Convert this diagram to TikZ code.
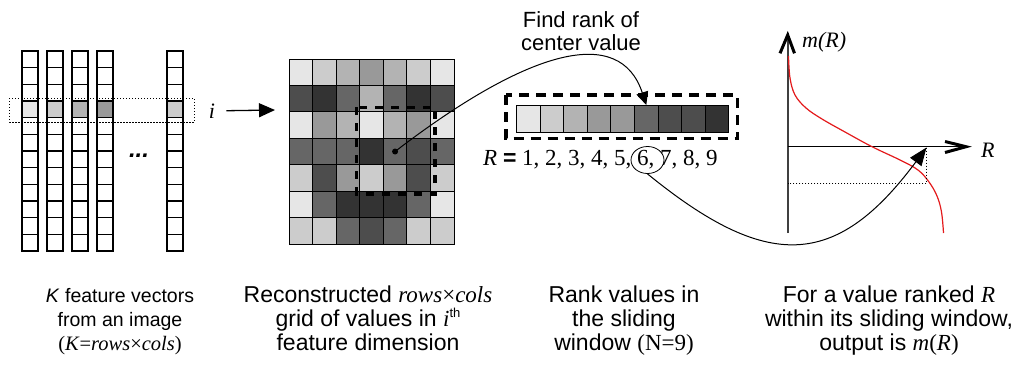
\documentclass[tikz,border=0pt]{standalone}
\usepackage{fontspec}
\setmainfont{Liberation Sans}
\newfontfamily\tms{Liberation Serif}
\usetikzlibrary{arrows.meta,shapes.geometric}

% grey levels used for the feature values
\definecolor{tone1}{HTML}{E6E6E6}
\definecolor{tone2}{HTML}{CCCCCC}
\definecolor{tone3}{HTML}{B3B3B3}
\definecolor{tone4}{HTML}{999999}
\definecolor{tone5}{HTML}{666666}
\definecolor{tone6}{HTML}{4D4D4D}
\definecolor{tone7}{HTML}{333333}
\definecolor{curvered}{HTML}{E41A1C}

\newcommand\ser[1]{{\tms #1}}

\begin{document}
\begin{tikzpicture}[x=1pt,y=-1pt,
  vecbox/.style={draw=black, line width=1.1pt, inner sep=0pt, outer sep=0pt,
    minimum width=16pt, minimum height=16.67pt},
  cellbox/.style={draw=black, line width=0.9pt, inner sep=0pt, outer sep=0pt,
    minimum width=23.57pt, minimum height=26.43pt},
  winframe/.style={line width=3.5pt, dash pattern=on 8pt off 8pt},
  guide/.style={line width=0.9pt, dash pattern=on 1.2pt off 1.8pt},
  caption/.style={align=center, anchor=base, inner sep=0pt,
    font=\fontsize{23}{24}\selectfont},
  link/.style={line width=1pt},
]
\fill[white] (0,0) rectangle (1019,376);
\useasboundingbox (0,0) rectangle (1019,376);

% ---- K feature vectors ----
\foreach \x/\t [count=\k] in {22/1,47/2,72/3,97/4,167/2} {
  \foreach \j in {1,...,12} {
    \ifnum\j=4 \def\fc{tone\t}\else\def\fc{white}\fi
    \node[vecbox, fill=\fc] (v-\k-\j) at ({\x+8},{51+(\j-0.5)*16.667}) {};
  }
}
\draw[guide] (9.3,98) rectangle (194,122);
\node[anchor=base, inner sep=0pt, font=\bfseries\itshape\fontsize{24}{24}\selectfont]
  (more) at (139,157) {...};
\node[anchor=base, inner sep=0pt, font=\fontsize{22}{22}\selectfont\tms\itshape]
  (ilab) at (212,118) {i};
\coordinate (gin) at (275,110);
\draw[line width=1.3pt, -{Triangle[length=16pt,width=14pt]}]
  ([xshift=11pt]ilab.east) -- (gin);

% ---- reconstructed rows x cols grid ----
\foreach \line [count=\r] in {{1,2,3,4,3,2,1},{6,7,5,3,5,7,6},{1,4,3,1,3,4,1},
    {5,5,5,7,5,6,5},{2,6,4,2,4,6,2},{1,5,7,7,7,5,1},{2,2,5,6,5,2,2}} {
  \foreach \t [count=\c] in \line {
    \node[cellbox, fill=tone\t] (g-\r-\c) at ({289+(\c-0.5)*23.571},{59+(\r-0.5)*26.429}) {};
  }
}
\draw[winframe] (356.7,107.3) rectangle (435,194);
\fill (g-4-5.center) circle (3pt);

% ---- sorted values of the window ----
\foreach \t [count=\c] in {1,2,3,4,4,5,6,6,7}
  \node[cellbox, fill=tone\t, minimum width=23.6pt, minimum height=27pt]
    (s-\c) at ({516.5+(\c-0.5)*23.6},118.5) {};
\draw[winframe, dash pattern=on 10pt off 7pt] (506,95) rectangle (737.5,138.5);

% the base anchor of a multi-line node sits on its last line
\node[caption, font=\fontsize{22}{23}\selectfont] (findrank) at (581,50)
  {Find rank of\\center value};
\draw[link, -{Triangle[length=13pt,width=12pt]}]
  (g-4-5.center) .. controls (530,48) and (620,25) .. (s-6.north);

\node[anchor=base west, inner sep=0pt, font=\fontsize{23}{23}\selectfont\tms]
  (ranks) at (483,165) {\textit{R} {\rmfamily\bfseries =} 1, 2, 3, 4, 5, 6, 7, 8, 9};
\node[draw, ellipse, line width=0.8pt, minimum width=33pt, minimum height=27pt,
  inner sep=0pt] (ring) at (647.5,160) {};

% ---- mapping m(R) ----
\coordinate (O) at (787.7,146.7);
\draw[line width=2pt, black!75] (787.7,233) -- (787.7,33);
\draw[line width=3pt] (780,53.3) -- (787.7,35) -- (794.5,53.3);
\draw[line width=1.3pt] (O) -- (968,146.7);
\draw[line width=3pt] (945,141.5) -- (966,146.7) -- (945,152.5);
\node[anchor=base west, inner sep=0pt, font=\fontsize{22}{22}\selectfont\tms\itshape]
  (mlab) at (802,47) {m(R)};
\node[anchor=base west, inner sep=0pt, font=\fontsize{22}{22}\selectfont\tms\itshape]
  (rlab) at (981,157) {R};
\draw[curvered, line width=1.2pt] plot[smooth, tension=0.6] coordinates {
  (788.5,56) (790,78) (795,95) (806,108) (822,119) (845,132) (872,146.7)
  (900,160) (918,170) (929,182) (937,196) (941.5,212) (943.5,233)};
\coordinate (Rmark) at (926.5,147.5);
\draw[guide] (Rmark) -- (926.5,183.3) -- (787.7,183.3);
\draw[link, -{Triangle[length=18pt,width=14pt]}]
  (ring.south) .. controls (766.7,271) and (835.7,269.8) .. (Rmark);

% ---- captions ----
\node[caption, font=\fontsize{19.5}{24}\selectfont] (cap1) at (120,350)
  {\textit{K} feature vectors\\from an image\\
   {\fontsize{20.5}{24}\selectfont\tms(\textit{K}=\textit{rows}×\textit{cols})}};
\node[caption] (cap2) at (368,350)
  {Reconstructed \ser{\textit{rows}×\textit{cols}}\\grid of values in
   \ser{\textit{i}}\raisebox{9pt}{\fontsize{13}{13}\selectfont th}\\feature dimension};
\node[caption] (cap3) at (624,350)
  {Rank values in\\the sliding\\window \ser{(N=9)}};
\node[caption] (cap4) at (889,350)
  {For a value ranked \ser{\textit{R}}\\within its sliding window,\\output is
   \ser{\textit{m}(\textit{R})}};
\end{tikzpicture}
\end{document}
